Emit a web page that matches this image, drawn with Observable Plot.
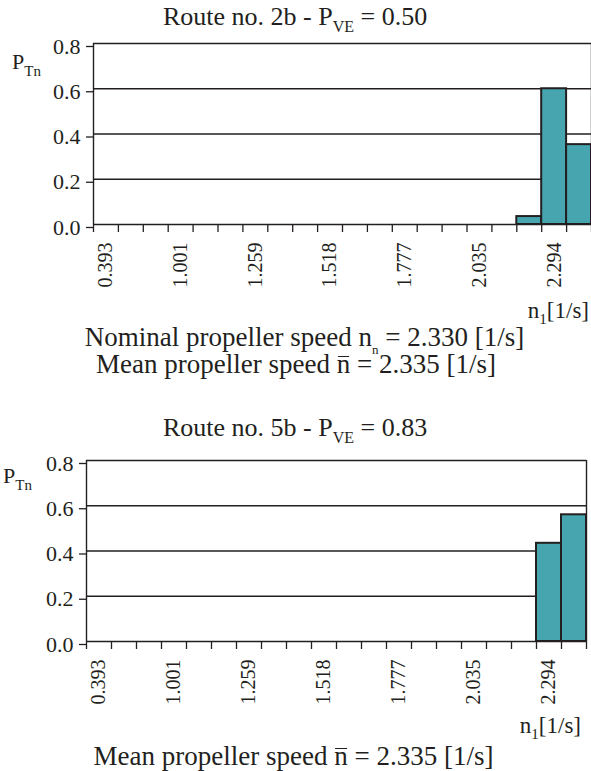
<!DOCTYPE html>
<html>
<head>
<meta charset="utf-8">
<script src="https://cdn.jsdelivr.net/npm/d3@7"></script>
<script src="https://cdn.jsdelivr.net/npm/@observablehq/plot@0.6"></script>
<style>
  html, body { margin: 0; padding: 0; background: #fff; }
  #wrap { position: relative; width: 591px; height: 771px; overflow: hidden; font-family: "Liberation Serif", "Times New Roman", serif; color: #231f20; }
  .t { position: absolute; white-space: nowrap; line-height: 1; }
  .sub { position: relative; }
  .ov { position: relative; }
  .ov::before { content: ""; position: absolute; left: 0.04em; right: 0.04em; top: 0.25em; border-top: 1.4px solid #231f20; }
  svg.panel { position: absolute; left: 0; font-family: "Liberation Serif", "Times New Roman", serif !important; }
  svg.panel text, svg.panel g { font-family: "Liberation Serif", "Times New Roman", serif !important; }
</style>
</head>
<body>
<div id="wrap"></div>
<script>
// ---- data ----
const binIndex = [0, 1, 2, 3, 4, 5, 6, 7, 8, 9, 10, 11, 12, 13, 14, 15, 16, 17, 18, 19];
const tickLabels = ["0.393", "", "", "1.001", "", "", "1.259", "", "", "1.518", "", "", "1.777", "", "", "2.035", "", "", "2.294", ""];
const route2bP = [0, 0, 0, 0, 0, 0, 0, 0, 0, 0, 0, 0, 0, 0, 0, 0, 0, 0.035, 0.6, 0.353];
const route5bP = [0, 0, 0, 0, 0, 0, 0, 0, 0, 0, 0, 0, 0, 0, 0, 0, 0, 0, 0.434, 0.56];
const yTicks = [0, 0.2, 0.4, 0.6, 0.8];
const gridValues = [0.2, 0.4, 0.6, 0.8];

const TEXT = "#231f20";
const TEAL = "#46a5ae";
const SERIF = '"Liberation Serif", "Times New Roman", serif';

function panel(values, {top, marginLeft, marginRight}) {
  const rows = binIndex.map((i) => ({i, v: values[i]})).filter((d) => d.v > 0);
  const labelled = binIndex.filter((i) => tickLabels[i] !== "");
  const chart = Plot.plot({
    width: 591,
    height: 300,
    marginTop: 43,
    marginBottom: 76,
    marginLeft,
    marginRight,
    style: {fontFamily: SERIF, fontSize: "20px", color: TEXT, background: "transparent", overflow: "visible"},
    x: {type: "linear", domain: [0, binIndex.length], label: null},
    y: {domain: [0, 0.8], label: null},
    marks: [
      Plot.ruleY(gridValues, {stroke: TEXT, strokeWidth: 1.4}),
      Plot.rectY(rows, {x1: "i", x2: (d) => d.i + 1, y: "v", fill: TEAL, stroke: TEXT, strokeWidth: 2}),
      Plot.ruleX([0], {stroke: TEXT, strokeWidth: 1.4}),
      Plot.ruleX([binIndex.length], {y1: 0, y2: 0.8, stroke: TEXT, strokeWidth: 1.4}),
      Plot.ruleY([0], {stroke: TEXT, strokeWidth: 1.4}),
      Plot.axisY(yTicks, {tickSize: 7, tickPadding: 6, tickFormat: d3.format(".1f"), fontSize: 22, fontFamily: SERIF, dy: 3, label: null, stroke: TEXT, strokeWidth: 1.3, fill: TEXT}),
      Plot.axisX([...binIndex, binIndex.length], {tickSize: 8, tickFormat: () => "", label: null, stroke: TEXT, strokeWidth: 1.3}),
      Plot.text(labelled, {x: (i) => i + 0.5, frameAnchor: "bottom", text: (i) => tickLabels[i], rotate: -90, textAnchor: "end", lineAnchor: "middle", dy: 18, fontSize: 20, fontFamily: SERIF, fill: TEXT})
    ]
  });
  chart.classList.add("panel");
  chart.style.top = top + "px";
  chart.style.position = "absolute";
  chart.style.left = "0px";
  return chart;
}

const wrap = document.getElementById("wrap");
wrap.appendChild(panel(route2bP, {top: 0, marginLeft: 93, marginRight: 0}));
wrap.appendChild(panel(route5bP, {top: 417, marginLeft: 86, marginRight: 5}));

function addText(html, {x, baseline, size, align = "left"}) {
  const d = document.createElement("div");
  d.className = "t";
  d.style.fontSize = size + "px";
  d.innerHTML = html;
  d.style.top = (baseline - 0.8375 * size) + "px";
  if (align === "left") d.style.left = x + "px";
  else if (align === "right") d.style.right = (591 - x) + "px";
  else { d.style.left = x + "px"; d.style.transform = "translateX(-50%)"; }
  wrap.appendChild(d);
}

const subS = (s, size, drop) => `<span class="sub" style="font-size:${size}px;top:${drop}px">${s}</span>`;

addText(`Route no. 2b - P${subS("VE", 16, 7)} = 0.50`, {x: 163, baseline: 26, size: 26});
addText(`P${subS("Tn", 15, 7)}`, {x: 12, baseline: 69.5, size: 22});
addText(`n${subS("1", 15, 6)}[1/s]`, {x: 589, baseline: 318, size: 23, align: "right"});
addText(`Nominal propeller speed n${subS("n", 13, 8)} = 2.330 [1/s]`, {x: 304.5, baseline: 347, size: 27, align: "center"});
addText(`Mean propeller speed <span class="ov">n</span> = 2.335 [1/s]`, {x: 296, baseline: 373.5, size: 27, align: "center"});

addText(`Route no. 5b - P${subS("VE", 16, 7)} = 0.83`, {x: 163, baseline: 437, size: 26});
addText(`P${subS("Tn", 15, 7)}`, {x: 3, baseline: 483, size: 22});
addText(`n${subS("1", 15, 6)}[1/s]`, {x: 581, baseline: 733, size: 23, align: "right"});
addText(`Mean propeller speed <span class="ov">n</span> = 2.335 [1/s]`, {x: 293.5, baseline: 766, size: 27, align: "center"});
</script>
</body>
</html>
